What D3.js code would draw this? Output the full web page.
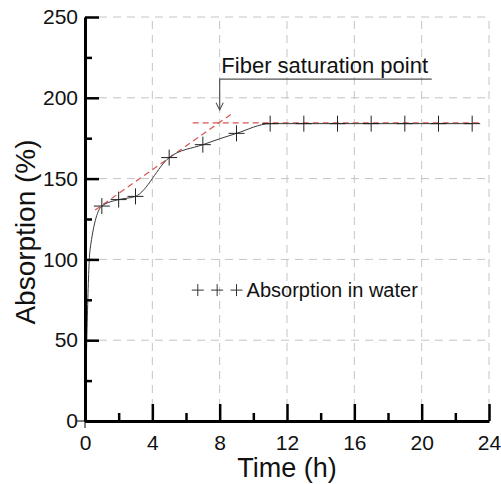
<!DOCTYPE html>
<html>
<head>
<meta charset="utf-8">
<script src="https://cdn.jsdelivr.net/npm/d3@7"></script>
<style>
  html, body { margin: 0; padding: 0; background: #fff; }
  svg { display: block; font-family: 'Liberation Sans', Arial, sans-serif; }
</style>
</head>
<body>
<svg id="chart"></svg>
<script>
// measured data (time in h, absorption in %)
const timeH = [0, 0.3, 1, 2, 3, 5, 7, 9, 11, 13, 15, 17, 19, 21, 23];
const absorption = [0, 106, 133, 137, 139, 163, 171, 178, 184, 184, 184, 184, 184, 184, 184];
const hasSymbol = [false, false, true, true, true, true, true, true, true, true, true, true, true, true, true];

// red dashed trend lines
const riseLine = [[0.6, 130.5], [8.7, 190]];
const flatLine = [[6.4, 184.5], [23.4, 184.5]];

// annotation + legend
const noteLabel = 'Fiber saturation point';
const notePath = [[20.6, 211.5], [8, 211.5], [8, 192.5]];
const noteAt = [8.1, 215.5];
const legendLabel = 'Absorption in water';
const legendMarks = [6.7, 7.85, 9.0];
const legendAt = [9.6, 81];

const xTicks = [0, 4, 8, 12, 16, 20, 24];
const xMinor = [2, 6, 10, 14, 18, 22];
const yTicks = [0, 50, 100, 150, 200, 250];
const yMinor = [25, 75, 125, 175, 225];

const width = 501;
const height = 484;
const margin = { top: 17, right: 12, bottom: 63, left: 85 };

const svg = d3.select('#chart')
  .attr('width', width)
  .attr('height', height);

const x = d3.scaleLinear()
  .domain([0, 24])
  .range([margin.left, width - margin.right]);

const y = d3.scaleLinear()
  .domain([0, 250])
  .range([height - margin.bottom, margin.top]);

// grid
const grid = svg.append('g')
  .attr('stroke', '#c4c4c4')
  .attr('stroke-width', 1)
  .attr('stroke-dasharray', '8,6');

grid.selectAll('line.gx')
  .data(xTicks.slice(1))
  .join('line')
  .attr('class', 'gx')
  .attr('x1', d => x(d)).attr('x2', d => x(d))
  .attr('y1', y(0)).attr('y2', y(250));

grid.selectAll('line.gy')
  .data(yTicks.slice(1))
  .join('line')
  .attr('class', 'gy')
  .attr('x1', x(0)).attr('x2', x(24))
  .attr('y1', d => y(d)).attr('y2', d => y(d));

// trend lines
const seg = d3.line().x(d => x(d[0])).y(d => y(d[1]));
svg.append('g')
  .attr('fill', 'none')
  .attr('stroke', '#d9534f')
  .attr('stroke-width', 1.2)
  .attr('stroke-dasharray', '6,4')
  .selectAll('path')
  .data([riseLine, flatLine])
  .join('path')
  .attr('d', seg);

// absorption curve
const pts = timeH.map((t, i) => ({ t, v: absorption[i], mark: hasSymbol[i] }));

svg.append('path')
  .datum(pts)
  .attr('fill', 'none')
  .attr('stroke', '#3a3a3a')
  .attr('stroke-width', 1)
  .attr('d', d3.line()
    .x(d => x(d.t))
    .y(d => y(d.v))
    .curve(d3.curveMonotoneX));

const plus = (cx, cy, r) => `M${cx - r},${cy}H${cx + r}M${cx},${cy - r}V${cy + r}`;

svg.append('g')
  .attr('stroke', '#222')
  .attr('stroke-width', 1)
  .selectAll('path')
  .data(pts.filter(d => d.mark))
  .join('path')
  .attr('d', d => plus(x(d.t), y(d.v), 8));

// axes
svg.append('g')
  .attr('transform', `translate(${x(0)},0)`)
  .call(d3.axisLeft(y).tickValues(yTicks).tickSize(-14).tickSizeOuter(0).tickPadding(7));

svg.append('g')
  .attr('transform', `translate(${x(0)},0)`)
  .call(d3.axisLeft(y).tickValues(yMinor).tickSize(-7).tickFormat(''))
  .call(g => g.select('.domain').remove());

svg.append('g')
  .attr('transform', `translate(0,${y(0)})`)
  .call(d3.axisBottom(x).tickValues(xTicks).tickSize(-17).tickSizeOuter(0).tickPadding(14));

svg.append('g')
  .attr('transform', `translate(0,${y(0)})`)
  .call(d3.axisBottom(x).tickValues(xMinor).tickSize(-8).tickFormat(''))
  .call(g => g.select('.domain').remove());

svg.selectAll('.domain')
  .attr('stroke', '#000')
  .attr('stroke-width', 3);
svg.selectAll('.tick line')
  .attr('stroke', '#000')
  .attr('stroke-width', 2.5);
svg.selectAll('.tick text')
  .attr('font-family', "'Liberation Sans', Arial, sans-serif")
  .attr('font-size', 21)
  .attr('fill', '#111');

// small outward stubs at the origin
svg.append('path')
  .attr('stroke', '#000')
  .attr('stroke-width', 1)
  .attr('d', `M${x(0) - 8},${y(0)}H${x(0)}M${x(0)},${y(0)}V${y(0) + 7}`);

// axis titles
svg.append('text')
  .attr('x', (x(0) + x(24)) / 2)
  .attr('y', 477)
  .attr('text-anchor', 'middle')
  .attr('font-size', 27)
  .attr('fill', '#111')
  .text('Time (h)');

svg.append('text')
  .attr('transform', `translate(35,${(y(0) + y(250)) / 2 + 13}) rotate(-90)`)
  .attr('text-anchor', 'middle')
  .attr('font-size', 28)
  .attr('fill', '#111')
  .text('Absorption (%)');

// annotation
const defs = svg.append('defs');
defs.append('marker')
  .attr('id', 'arrow')
  .attr('viewBox', '0 0 10 10')
  .attr('refX', 9).attr('refY', 5)
  .attr('markerWidth', 9).attr('markerHeight', 9)
  .attr('orient', 'auto')
  .attr('markerUnits', 'userSpaceOnUse')
  .append('path')
  .attr('d', 'M1,1L9,5L1,9')
  .attr('fill', 'none')
  .attr('stroke', '#555')
  .attr('stroke-width', 1.2);

svg.append('path')
  .attr('d', seg(notePath))
  .attr('fill', 'none')
  .attr('stroke', '#555')
  .attr('stroke-width', 1.2)
  .attr('marker-end', 'url(#arrow)');

svg.append('text')
  .attr('x', x(noteAt[0]))
  .attr('y', y(noteAt[1]))
  .attr('font-size', 22)
  .attr('fill', '#111')
  .text(noteLabel);

// legend
svg.append('g')
  .attr('stroke', '#333')
  .attr('stroke-width', 1)
  .selectAll('path')
  .data(legendMarks)
  .join('path')
  .attr('d', d => plus(x(d), y(legendAt[1]), 6));

svg.append('text')
  .attr('x', x(legendAt[0]))
  .attr('y', y(legendAt[1]))
  .attr('dy', '0.35em')
  .attr('font-size', 20)
  .attr('fill', '#111')
  .text(legendLabel);
</script>
</body>
</html>
